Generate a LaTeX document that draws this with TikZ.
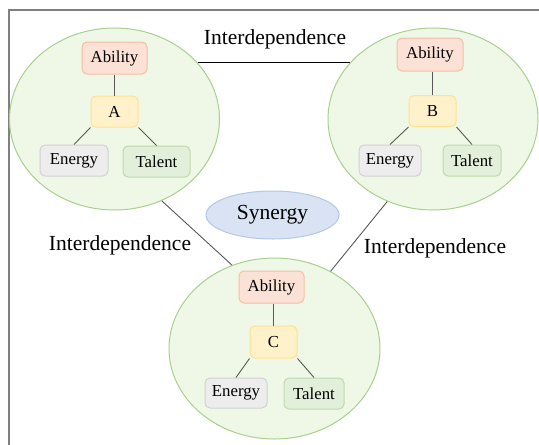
\documentclass[tikz,border=0pt]{standalone}
\usepackage{fontspec}
\setmainfont{Liberation Serif}
\usetikzlibrary{shapes.geometric}

\definecolor{frameGray}{HTML}{808080}
\definecolor{linkGray}{HTML}{595959}
\definecolor{groupFill}{HTML}{EFF7E7}
\definecolor{groupLine}{HTML}{A9D18E}
\definecolor{abilFill}{HTML}{FBE1D6}
\definecolor{abilLine}{HTML}{F5BFA3}
\definecolor{coreFill}{HTML}{FFF1CA}
\definecolor{coreLine}{HTML}{FFE28F}
\definecolor{enerFill}{HTML}{EDEDED}
\definecolor{enerLine}{HTML}{D2D2D2}
\definecolor{talFill}{HTML}{E2EFDA}
\definecolor{talLine}{HTML}{BFDBAA}
\definecolor{synFill}{HTML}{DAE3F3}
\definecolor{synLine}{HTML}{B4C7E7}

\tikzset{
  group/.style={ellipse, draw=groupLine, fill=groupFill, line width=1pt,
    minimum width=210pt, minimum height=182pt, inner sep=0pt},
  box/.style={rounded corners=5pt, line width=1pt, inner sep=0pt,
    minimum height=31pt, font=\fontsize{16.8}{18}\selectfont},
  abil/.style={box, draw=abilLine, fill=abilFill, minimum width=65pt},
  core/.style={box, draw=coreLine, fill=coreFill, minimum width=47pt},
  ener/.style={box, draw=enerLine, fill=enerFill, minimum width=64pt},
  tal/.style={box, draw=talLine, fill=talFill, minimum width=62pt},
  link/.style={draw=linkGray, line width=0.9pt},
  interlink/.style={draw=linkGray, line width=0.9pt},
  label/.style={font=\fontsize{21.5}{24}\selectfont, inner sep=0pt},
}

\begin{document}
\begin{tikzpicture}[x=1pt, y=-1pt]
  \useasboundingbox (0,0) rectangle (539,445);
  \fill[white] (0,0) rectangle (539,445);

  % outer frame (open at right and bottom)
  \draw[frameGray, line width=2pt] (9,445) -- (9,10) -- (540,10);

  % the three groups
  \node[group] (gA) at (114.5,119) {};
  \node[group] (gB) at (433,119) {};
  \node[group, minimum width=211pt, minimum height=181pt] (gC) at (274.5,348.5) {};

  % synergy in the middle
  \node[ellipse, draw=synLine, fill=synFill, line width=1pt, inner sep=0pt,
        minimum width=133pt, minimum height=48pt,
        font=\fontsize{21.5}{24}\selectfont] (syn) at (272.5,215) {Synergy};

  % interdependence links between groups
  \draw[black, line width=0.9pt] (gA.34.2) -- (gB.146);
  \draw[interlink] (gA.-60.7) -- (gC.117.8);
  \draw[interlink] (gB.-119) -- (gC.54.9);

  \node[label] (tAB) at (275,39) {Interdependence};
  \node[label] (tAC) at (120,245) {Interdependence};
  \node[label] (tBC) at (435,248) {Interdependence};

  % group A
  \node[abil, minimum height=32pt] (abA) at (114.5,58) {Ability};
  \node[core] (cA) at (114.5,111.5) {A};
  \node[ener, minimum width=68pt] (enA) at (74,160.5) {Energy};
  \node[tal, minimum width=67pt] (taA) at (156.5,161.5) {Talent};
  \draw[link] (cA.north) -- (cA.north |- abA.south);
  \draw[link] (cA.south west) -- (enA.north);
  \draw[link] (cA.south east) -- (taA.north);

  % group B
  \node[abil, minimum width=66pt, minimum height=33pt] (abB) at (430,54.5) {Ability};
  \node[core] (cB) at (432.5,111) {B};
  \node[ener, minimum width=62pt] (enB) at (390,160.5) {Energy};
  \node[tal, minimum width=58pt] (taB) at (472,160.5) {Talent};
  \draw[link] (cB.north) -- (cB.north |- abB.south);
  \draw[link] (cB.south west) -- (enB.north);
  \draw[link] (cB.south east) -- (taB.north);

  % group C
  \node[abil, minimum height=32pt] (abC) at (271.5,287) {Ability};
  \node[core, minimum height=32pt] (cC) at (273.5,342) {C};
  \node[ener, minimum width=62pt, minimum height=30pt] (enC) at (236,393) {Energy};
  \node[tal, minimum width=60pt] (taC) at (314,393.5) {Talent};
  \draw[link] (cC.north) -- (cC.north |- abC.south);
  \draw[link] (cC.south west) -- (enC.north);
  \draw[link] (cC.south east) -- (taC.north);
\end{tikzpicture}
\end{document}
